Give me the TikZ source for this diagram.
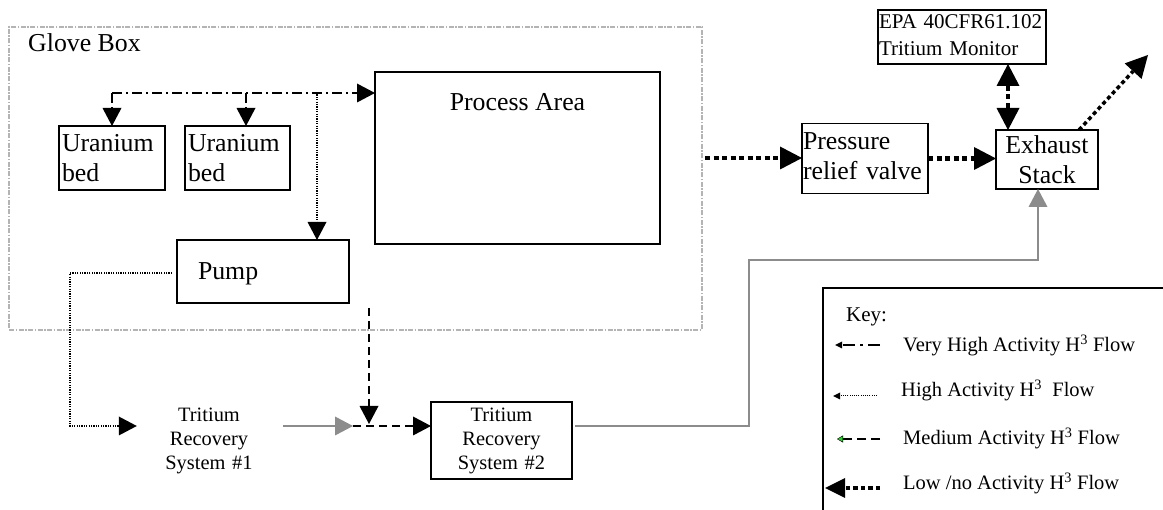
\documentclass[tikz,border=0pt]{standalone}
\usepackage{fontspec}
\setmainfont{Liberation Serif}
\usetikzlibrary{arrows.meta,calc}

\definecolor{boxgray}{HTML}{B4B4B4}
\definecolor{linegray}{HTML}{8C8C8C}
\definecolor{tipgreen}{HTML}{2ECC2E}

\tikzset{
  box/.style={draw, line width=1.5pt, inner sep=0pt, outer sep=0pt},
  bigtext/.style={font=\fontsize{25.8}{30}\selectfont},
  midtext/.style={font=\fontsize{21}{27}\selectfont},
  smalltext/.style={font=\fontsize{20.4}{24}\selectfont},
  keytext/.style={font=\fontsize{20.5}{24}\selectfont, inner sep=0pt, anchor=base west},
  glove/.style={draw=boxgray, line width=1.1pt, dash pattern=on 5pt off 1.5pt on 1.5pt off 1.5pt},
  vhigh/.style={line width=1.5pt, dash pattern=on 10pt off 4pt on 2pt off 4pt},
  high/.style={line width=1.2pt, dash pattern=on 1.2pt off 1.2pt},
  medium/.style={line width=2pt, dash pattern=on 8pt off 5pt},
  low/.style={line width=4.5pt, dash pattern=on 5pt off 3.5pt},
  grayflow/.style={draw=linegray, line width=1.8pt},
  head/.style={-{Triangle[length=18pt,width=19pt,line width=0pt]}},
  grayhead/.style={-{Triangle[length=18pt,width=19pt,line width=0pt,fill=linegray,color=linegray]}},
  bighead/.style={-{Triangle[length=22pt,width=23pt,line width=0pt]}},
  bigheads/.style={{Triangle[length=22pt,width=23pt,line width=0pt]}-{Triangle[length=22pt,width=23pt,line width=0pt]}},
}

\begin{document}
\begin{tikzpicture}[x=1pt,y=-1pt]
\useasboundingbox (0,0) rectangle (1163,510);
\fill[white] (0,0) rectangle (1163,510);

% glove box enclosure
\node[glove, minimum width=693pt, minimum height=303pt, inner sep=0pt] (gb) at (355.5,178.5) {};
\node[bigtext, inner sep=0pt, anchor=base west] (gblbl) at (28,52) {Glove Box};

% equipment inside the glove box
\node[box, bigtext, minimum width=106pt, minimum height=64pt, text width=100pt, align=left] (u1) at (112,158) {Uranium\\bed};
\node[box, bigtext, minimum width=105pt, minimum height=64pt, text width=99pt, align=left] (u2) at (237.5,158) {Uranium\\bed};
\node[box, minimum width=285pt, minimum height=172pt] (pa) at (517.5,158) {};
\node[bigtext, inner sep=0pt, anchor=base] (palbl) at (517.5,111) {Process Area};
\node[box, bigtext, minimum width=172pt, minimum height=63pt, text width=130pt, align=left, text depth=0pt] (pump) at (263,271.5) {Pump};

% release path
\node[box, bigtext, minimum width=126pt, minimum height=70pt, text width=124pt, align=left] (prv) at (865,158.5) {Pressure\\relief valve\rule[-4pt]{0pt}{4pt}};
\node[box, bigtext, minimum width=102pt, minimum height=59pt, text width=100pt, align=center] (ex) at (1047,159.5) {Exhaust\\Stack};
\node[box, midtext, minimum width=168pt, minimum height=54pt, text width=166pt, align=left] (mon) at (962,37) {EPA 40CFR61.102\\Tritium Monitor\rule[-4pt]{0pt}{4pt}};
\coordinate (out) at (1148,55);

% recovery systems
\node[smalltext, minimum width=144pt, text width=110pt, align=center, inner sep=0pt] (trs1) at (209,441) {Tritium\\Recovery\\System \#1};
\node[box, smalltext, minimum width=141pt, minimum height=77pt, text width=130pt, align=center] (trs2) at (501.5,440.5) {Tritium\\Recovery\\System \#2};

% routing points
\coordinate (vh1) at (112,93);
\coordinate (vh2) at (246,93);
\coordinate (vh3) at (317,93);
\coordinate (hl) at (70,426);
\coordinate (jn) at (353,426);
\coordinate (mtop) at (369,308);
\coordinate (gc) at (749,260);
\coordinate (lo1) at (705,158);

% very high activity flow
\draw[vhigh, head] (vh1) -- (vh1 -| pa.west);
\draw[vhigh, head] (vh1) -- (vh1 |- u1.north);
\draw[vhigh, head] (vh2) -- (vh2 |- u2.north);

% high activity flow
\draw[high, head] ([yshift=-1.5pt]vh3) -- (vh3 |- pump.north);
\draw[high, head, shorten <=5pt] (pump.west |- 0,273) -| (hl) -- (hl -| trs1.west);

% tritium recovery chain
\draw[grayflow, grayhead] ([xshift=2pt]hl -| trs1.east) -- (jn);
\draw[medium, head] (jn) -- (jn -| trs2.west);
\draw[medium, head] (mtop) -- ([yshift=2pt]mtop |- jn);
\draw[grayflow, grayhead, shorten <=3pt] (jn -| trs2.east) -| (gc) -| ([xshift=-9pt]ex.south);

% low / no activity flow
\draw[low, bighead] (lo1) -- (lo1 -| prv.west);
\draw[low, bighead] (prv.east) -- (prv.east -| ex.west);
\draw[low, bigheads] ([xshift=-39pt]ex.north |- mon.south) -- ([xshift=-39pt]ex.north);
\draw[low, bighead, line width=3.5pt, dash pattern=on 4pt off 3pt] ([xshift=32pt]ex.north) -- (out);

% key
\draw[line width=1.5pt] (1163,288) -- (823,288) -- (823,510);
\node[keytext, font=\fontsize{21}{24}\selectfont] (keyt) at (846,322) {Key:};
\node[keytext] (k1) at (903,352) {Very High Activity H\textsuperscript{3} Flow};
\node[keytext] (k2) at (901,397) {High Activity H\textsuperscript{3}\ \ Flow};
\node[keytext] (k3) at (903,445) {Medium Activity H\textsuperscript{3} Flow};
\node[keytext] (k4) at (903,490) {Low /no Activity H\textsuperscript{3} Flow};

\draw[line width=1.5pt, dash pattern=on 12pt off 5pt on 3pt off 5pt, -{Triangle[length=7pt,width=7pt,line width=0pt]}]
  ([xshift=-23pt,yshift=7pt]k1.base west) -- ([xshift=-68pt,yshift=7pt]k1.base west);
\draw[line width=1pt, dash pattern=on 1pt off 1.2pt, -{Triangle[length=7pt,width=7pt,line width=0pt]}]
  ([xshift=-24pt,yshift=1pt]k2.base west) -- ([xshift=-68pt,yshift=1pt]k2.base west);
\draw[line width=1.5pt, dash pattern=on 9pt off 5pt, -{Triangle[length=6pt,width=7pt,line width=0.4pt,fill=tipgreen]}]
  ([xshift=-23pt,yshift=6pt]k3.base west) -- ([xshift=-66pt,yshift=6pt]k3.base west);
\draw[line width=4pt, dash pattern=on 4.5pt off 3pt, -{Triangle[length=20pt,width=20pt,line width=0pt]}]
  ([xshift=-23pt,yshift=2pt]k4.base west) -- ([xshift=-78pt,yshift=2pt]k4.base west);
\end{tikzpicture}
\end{document}
